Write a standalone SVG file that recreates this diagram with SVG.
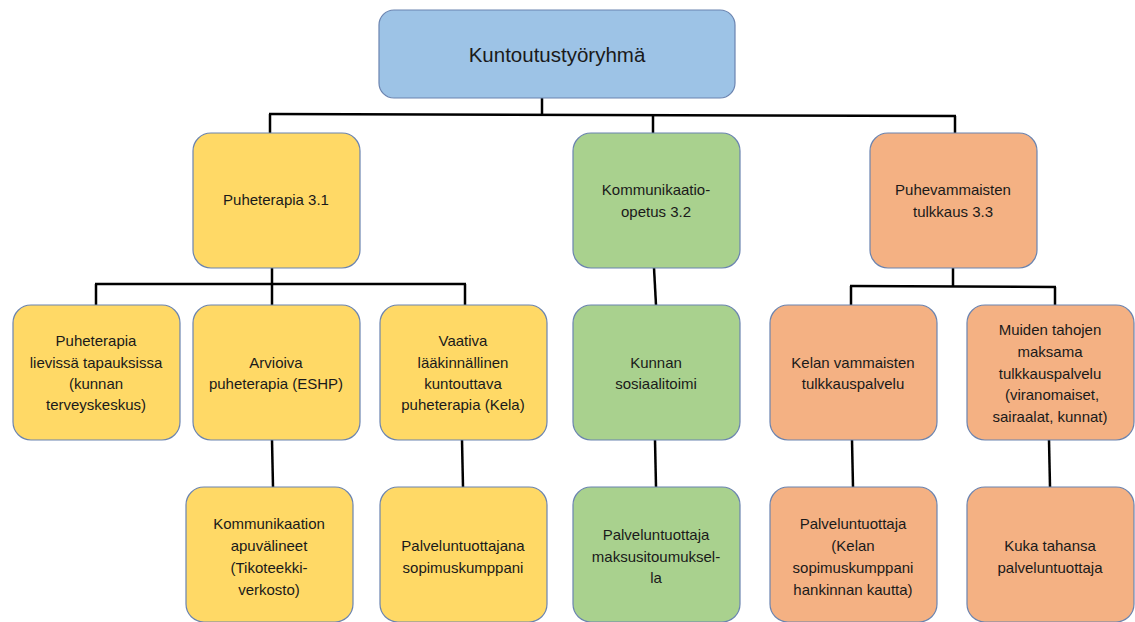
<svg xmlns="http://www.w3.org/2000/svg" width="1135" height="622" viewBox="0 0 1135 622">
<style>
.b{stroke:#6B84B0;stroke-width:1.2}
.blue{fill:#9DC3E6}.yel{fill:#FFD966}.grn{fill:#A9D18E}.org{fill:#F4B183}
text{font-family:"Liberation Sans",Arial,sans-serif;font-size:15px;fill:#1a1a1a;text-anchor:middle}
.big{font-size:20.5px}
#connectors line{stroke:#000;stroke-width:2.5;fill:none}
</style>
<rect width="1135" height="622" fill="#fff"/>
<g id="connectors">
<line x1="542" y1="98" x2="542" y2="114"/>
<line x1="269" y1="114" x2="956" y2="116"/>
<line x1="270" y1="114" x2="270" y2="133"/>
<line x1="653" y1="115" x2="653" y2="133"/>
<line x1="955" y1="116" x2="955" y2="133"/>
<line x1="272" y1="268" x2="272" y2="284"/>
<line x1="95" y1="284" x2="466" y2="284"/>
<line x1="96" y1="284" x2="96" y2="305"/>
<line x1="272" y1="284" x2="272" y2="305"/>
<line x1="465" y1="284" x2="465" y2="305"/>
<line x1="654" y1="268" x2="656" y2="305"/>
<line x1="953" y1="268" x2="953" y2="286"/>
<line x1="850" y1="286" x2="1056" y2="287"/>
<line x1="851" y1="286" x2="851" y2="305"/>
<line x1="1055" y1="287" x2="1055" y2="305"/>
<line x1="272" y1="440" x2="273" y2="487"/>
<line x1="462" y1="440" x2="463" y2="487"/>
<line x1="655" y1="440" x2="656" y2="487"/>
<line x1="852" y1="440" x2="853" y2="487"/>
<line x1="1049" y1="440" x2="1050" y2="487"/>
</g>
<g id="n0"><rect class="b blue" x="379" y="10" width="356" height="88" rx="15"/><text class="big" x="557" y="62">Kuntoutustyöryhmä</text></g>
<g id="n1"><rect class="b yel" x="193" y="133" width="167" height="135" rx="18"/><text x="276" y="205">Puheterapia 3.1</text></g>
<g id="n2"><rect class="b grn" x="573" y="133" width="167" height="135" rx="18"/><text x="656" y="195">Kommunikaatio-</text><text x="656" y="217">opetus 3.2</text></g>
<g id="n3"><rect class="b org" x="870" y="133" width="167" height="135" rx="18"/><text x="953" y="195">Puhevammaisten</text><text x="953" y="217">tulkkaus 3.3</text></g>
<g id="n4"><rect class="b yel" x="13" y="305" width="167" height="135" rx="18"/><text x="96" y="346">Puheterapia</text><text x="96" y="368">lievissä tapauksissa</text><text x="96" y="389">(kunnan</text><text x="96" y="410">terveyskeskus)</text></g>
<g id="n5"><rect class="b yel" x="193" y="305" width="167" height="135" rx="18"/><text x="276" y="368">Arvioiva</text><text x="276" y="389">puheterapia (ESHP)</text></g>
<g id="n6"><rect class="b yel" x="380" y="305" width="167" height="135" rx="18"/><text x="463" y="346">Vaativa</text><text x="463" y="368">lääkinnällinen</text><text x="463" y="389">kuntouttava</text><text x="463" y="410">puheterapia (Kela)</text></g>
<g id="n7"><rect class="b grn" x="573" y="305" width="167" height="135" rx="18"/><text x="656" y="368">Kunnan</text><text x="656" y="389">sosiaalitoimi</text></g>
<g id="n8"><rect class="b org" x="770" y="305" width="167" height="135" rx="18"/><text x="853" y="368">Kelan vammaisten</text><text x="853" y="389">tulkkauspalvelu</text></g>
<g id="n9"><rect class="b org" x="967" y="305" width="167" height="135" rx="18"/><text x="1050" y="335">Muiden tahojen</text><text x="1050" y="357">maksama</text><text x="1050" y="379">tulkkauspalvelu</text><text x="1052" y="400">(viranomaiset,</text><text x="1050" y="422">sairaalat, kunnat)</text></g>
<g id="n10"><rect class="b yel" x="186" y="487" width="167" height="135" rx="18"/><text x="269" y="529">Kommunikaation</text><text x="269" y="551">apuvälineet</text><text x="269" y="573">(Tikoteekki-</text><text x="269" y="595">verkosto)</text></g>
<g id="n11"><rect class="b yel" x="380" y="487" width="167" height="135" rx="18"/><text x="463" y="551">Palveluntuottajana</text><text x="463" y="573">sopimuskumppani</text></g>
<g id="n12"><rect class="b grn" x="573" y="487" width="167" height="135" rx="18"/><text x="656" y="540">Palveluntuottaja</text><text x="656" y="562">maksusitoumuksel-</text><text x="656" y="583">la</text></g>
<g id="n13"><rect class="b org" x="770" y="487" width="167" height="135" rx="18"/><text x="853" y="529">Palveluntuottaja</text><text x="853" y="551">(Kelan</text><text x="853" y="573">sopimuskumppani</text><text x="853" y="595">hankinnan kautta)</text></g>
<g id="n14"><rect class="b org" x="967" y="487" width="167" height="135" rx="18"/><text x="1050" y="551">Kuka tahansa</text><text x="1050" y="573">palveluntuottaja</text></g>
</svg>
